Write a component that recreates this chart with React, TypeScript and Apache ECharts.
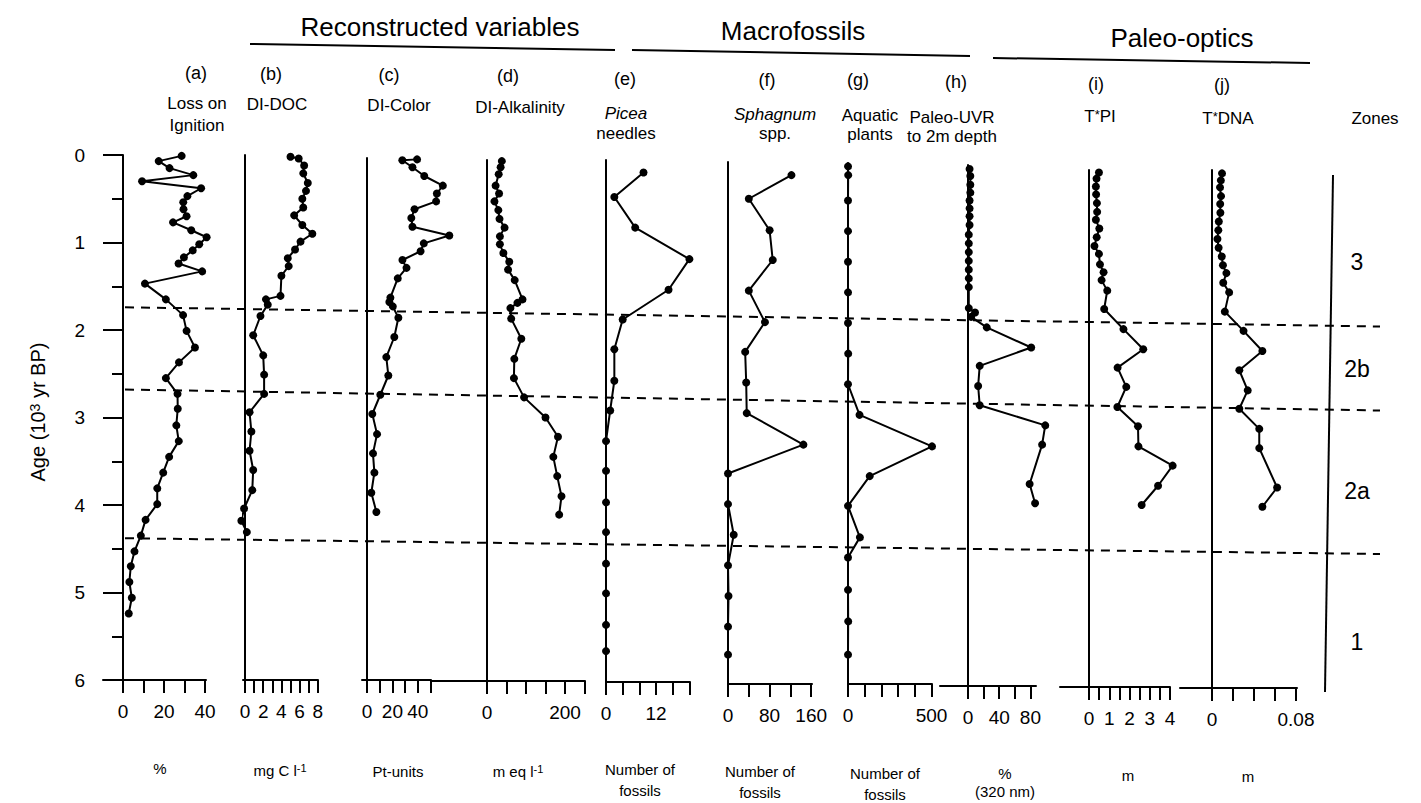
import React, { useEffect, useRef } from "react";
import * as echarts from "echarts";

const FONT = "'Liberation Sans', Arial, Helvetica, sans-serif";

// ---------------- data ----------------
// Age axis (10^3 yr BP)
const ageTicks = [0, 1, 2, 3, 4, 5, 6];

// (a) Loss on ignition (%)
const loiAge = [0.01, 0.07, 0.15, 0.23, 0.30, 0.38, 0.47, 0.54, 0.62, 0.70, 0.77, 0.86, 0.94, 1.02, 1.09, 1.17, 1.24, 1.33, 1.47, 1.65, 1.83, 2.01, 2.20, 2.37, 2.55, 2.73, 2.90, 3.09, 3.27, 3.45, 3.63, 3.81, 3.99, 4.17, 4.35, 4.53, 4.70, 4.88, 5.06, 5.24];
const loiValue = [28.6, 17.4, 22.7, 34.3, 9.3, 38.1, 31.4, 29.4, 29.5, 31.0, 24.4, 33.3, 40.8, 37.2, 34.0, 29.7, 27.1, 38.6, 10.7, 20.9, 29.3, 31.0, 35.1, 27.3, 20.9, 26.6, 26.7, 26.0, 27.2, 22.5, 19.6, 16.7, 16.7, 11.0, 8.7, 5.6, 3.8, 3.1, 4.3, 2.8];
const loiTicks = [0, 10, 20, 30, 40];
const loiLabels = [0, 20, 40];

// (b) DI-DOC (mg C l-1)
const docAge = [0.02, 0.04, 0.12, 0.21, 0.32, 0.41, 0.50, 0.60, 0.69, 0.80, 0.90, 0.99, 1.08, 1.18, 1.27, 1.38, 1.61, 1.65, 1.71, 1.84, 2.06, 2.29, 2.51, 2.73, 2.94, 3.16, 3.38, 3.60, 3.83, 4.04, 4.18, 4.31];
const docValue = [5.0, 5.9, 6.5, 6.4, 6.9, 6.7, 6.3, 6.4, 5.4, 6.3, 7.4, 6.1, 5.5, 4.7, 4.8, 4.0, 3.9, 2.3, 2.5, 1.7, 0.9, 2.0, 2.1, 2.1, 0.5, 0.7, 0.5, 0.9, 0.8, -0.1, -0.4, 0.2];
const docTicks = [0, 1, 2, 3, 4, 5, 6, 7, 8];
const docLabels = [0, 2, 4, 6, 8];

// (c) DI-Color (Pt-units)
const colorAge = [0.05, 0.06, 0.14, 0.24, 0.35, 0.44, 0.53, 0.62, 0.72, 0.82, 0.92, 1.01, 1.10, 1.20, 1.29, 1.41, 1.63, 1.68, 1.73, 1.86, 2.08, 2.31, 2.52, 2.74, 2.96, 3.19, 3.41, 3.63, 3.86, 4.08];
const colorValue = [39.4, 27.8, 35.8, 45.1, 59.7, 55.0, 54.4, 37.4, 34.9, 35.8, 64.8, 44.7, 42.2, 27.9, 31.1, 24.2, 18.4, 17.6, 20.3, 24.7, 21.5, 15.2, 16.8, 10.5, 4.2, 7.9, 4.7, 5.8, 3.4, 7.4];
const colorTicks = [0, 10, 20, 30, 40, 50];
const colorLabels = [0, 20, 40];

// (d) DI-Alkalinity (m eq l-1)
const alkAge = [0.07, 0.14, 0.22, 0.35, 0.44, 0.53, 0.63, 0.73, 0.83, 0.93, 1.02, 1.12, 1.22, 1.31, 1.43, 1.65, 1.69, 1.75, 1.87, 2.10, 2.33, 2.55, 2.77, 3.00, 3.22, 3.45, 3.67, 3.90, 4.11];
const alkValue = [38, 35, 30, 22, 31, 19, 29, 32, 45, 33, 33, 42, 57, 54, 71, 91, 78, 60, 62, 88, 70, 69, 95, 150, 182, 170, 180, 191, 185];
const alkTicks = [0, 50, 100, 150, 200, 250];
const alkLabels = [0, 200];

// (e) Picea needles (number of fossils)
const piceaAge = [0.20, 0.48, 0.83, 1.19, 1.54, 1.88, 2.22, 2.58, 2.92, 3.27, 3.61, 3.97, 4.31, 4.67, 5.01, 5.37, 5.67];
const piceaValue = [9, 2, 7, 20, 15, 4, 2, 2, 1, 0, 0, 0, 0, 0, 0, 0, 0];
const piceaTicks = [0, 4, 8, 12, 16, 20];
const piceaLabels = [0, 12];

// (f) Sphagnum spp. (number of fossils)
const sphagAge = [0.23, 0.50, 0.86, 1.20, 1.55, 1.91, 2.25, 2.60, 2.95, 3.31, 3.64, 3.99, 4.34, 4.69, 5.04, 5.39, 5.71];
const sphagValue = [122, 40, 80, 86, 40, 71, 33, 35, 36, 145, 0, 0, 11, 0, 1, 0, 0];
const sphagTicks = [0, 40, 80, 120, 160];
const sphagLabels = [0, 80, 160];

// (g) Aquatic plants (number of fossils)
const aquaticAge = [0.13, 0.23, 0.52, 0.87, 1.22, 1.57, 1.92, 2.27, 2.62, 2.97, 3.33, 3.67, 4.01, 4.37, 4.60, 4.97, 5.33, 5.71];
const aquaticValue = [0, 1, 0, 0, 0, 0, 0, 1, 0, 69, 503, 130, 0, 71, 0, 0, 1, 0];
const aquaticTicks = [0, 100, 200, 300, 400, 500];
const aquaticLabels = [0, 500];

// (h) Paleo-UVR to 2 m depth (% of 320 nm)
const uvrAge = [0.16, 0.24, 0.34, 0.43, 0.52, 0.61, 0.70, 0.80, 0.91, 1.01, 1.11, 1.21, 1.31, 1.41, 1.51, 1.75, 1.80, 1.85, 1.97, 2.20, 2.41, 2.64, 2.86, 3.09, 3.31, 3.76, 3.98];
const uvrValue = [2, 3, 3, 3, 2, 2, 2, 2, 1, 1, 1, 1, 1, 1, 1, 1, 9, 4, 24, 81, 15, 13, 15, 99, 95, 79, 86];
const uvrTicks = [0, 20, 40, 60, 80];
const uvrLabels = [0, 40, 80];

// (i) T*PI (m)
const piAge = [0.20, 0.27, 0.36, 0.45, 0.55, 0.65, 0.74, 0.84, 0.94, 1.04, 1.13, 1.25, 1.34, 1.43, 1.55, 1.76, 1.99, 2.22, 2.43, 2.65, 2.88, 3.10, 3.33, 3.55, 3.78, 4.00];
const piValue = [0.49, 0.37, 0.34, 0.35, 0.39, 0.40, 0.34, 0.51, 0.38, 0.27, 0.49, 0.54, 0.72, 0.62, 0.90, 0.75, 1.70, 2.68, 1.41, 1.84, 1.40, 2.42, 2.44, 4.13, 3.41, 2.60];
const piTicks = [0, 0.5, 1, 1.5, 2, 2.5, 3, 3.5, 4];
const piLabels = [0, 1, 2, 3, 4];

// (j) T*DNA (m)
const dnaAge = [0.21, 0.29, 0.37, 0.47, 0.56, 0.66, 0.76, 0.86, 0.96, 1.06, 1.16, 1.26, 1.35, 1.46, 1.57, 1.79, 2.01, 2.24, 2.46, 2.69, 2.90, 3.13, 3.35, 3.80, 4.02];
const dnaValue = [0.0095, 0.0084, 0.0076, 0.0086, 0.0078, 0.008, 0.0065, 0.006, 0.0052, 0.0063, 0.0093, 0.0104, 0.0137, 0.0107, 0.0163, 0.0122, 0.030, 0.048, 0.026, 0.034, 0.026, 0.045, 0.045, 0.062, 0.048];
const dnaTicks = [0, 0.02, 0.04, 0.06, 0.08];
const dnaLabels = [0, 0.08];

// Zone boundaries (age at left end / right end of the drawn dashed line)
const zoneBoundaryLeft = [1.74, 2.68, 4.38];
const zoneBoundaryRight = [1.96, 2.92, 4.56];
const zoneNames = ["3", "2b", "2a", "1"];
const zoneLabelAge = [1.22, 2.45, 3.84, 5.57];

// ---------------- layout ----------------
const AGE_TOP = 155;
const AGE_PX = 87.5;
const DATA_EXTRA = 120; // extra room to the right for the data layer

const panels = [
  { ages: loiAge, values: loiValue, ticks: loiTicks, labels: loiLabels, zeroX: 123, ppu: 2.05, left: 103, right: 206, top: 155, bottom: 680 },
  { ages: docAge, values: docValue, ticks: docTicks, labels: docLabels, zeroX: 245, ppu: 9.1, left: 243, right: 318, top: 155, bottom: 680 },
  { ages: colorAge, values: colorValue, ticks: colorTicks, labels: colorLabels, zeroX: 367, ppu: 1.27, left: 362, right: 431, top: 158, bottom: 680 },
  { ages: alkAge, values: alkValue, ticks: alkTicks, labels: alkLabels, zeroX: 487, ppu: 0.39, left: 432, right: 585, top: 160, bottom: 681 },
  { ages: piceaAge, values: piceaValue, ticks: piceaTicks, labels: piceaLabels, zeroX: 606, ppu: 4.17, left: 606, right: 690, top: 160, bottom: 682 },
  { ages: sphagAge, values: sphagValue, ticks: sphagTicks, labels: sphagLabels, zeroX: 728, ppu: 0.52, left: 728, right: 812, top: 162, bottom: 684 },
  { ages: aquaticAge, values: aquaticValue, ticks: aquaticTicks, labels: aquaticLabels, zeroX: 848, ppu: 0.167, left: 848, right: 932, top: 163, bottom: 684 },
  { ages: uvrAge, values: uvrValue, ticks: uvrTicks, labels: uvrLabels, zeroX: 968, ppu: 0.78, left: 940, right: 1036, top: 165, bottom: 686 },
  { ages: piAge, values: piValue, ticks: piTicks, labels: piLabels, zeroX: 1089, ppu: 20.25, left: 1060, right: 1170, top: 170, bottom: 687 },
  { ages: dnaAge, values: dnaValue, ticks: dnaTicks, labels: dnaLabels, zeroX: 1212, ppu: 1050, left: 1180, right: 1297, top: 170, bottom: 688 },
];

const BLACK = "#000";

function txt(x: number, y: number, text: string, fontSize: number, extra: any = {}) {
  const { rich, fontStyle, align, rotation } = extra;
  return {
    type: "text",
    x,
    y,
    rotation: rotation || 0,
    silent: true,
    style: {
      text,
      fontSize,
      fontFamily: FONT,
      fontStyle: fontStyle || "normal",
      fill: BLACK,
      align: align || "center",
      verticalAlign: "middle",
      rich,
    },
  };
}

function line(x1: number, y1: number, x2: number, y2: number, width = 2) {
  return {
    type: "line",
    silent: true,
    shape: { x1, y1, x2, y2 },
    style: { stroke: BLACK, lineWidth: width },
  };
}

function buildOption() {
  const grid: any[] = [];
  const xAxis: any[] = [];
  const yAxis: any[] = [];
  const series: any[] = [];
  const n = panels.length;

  // axis layer: one grid per panel, drawing the axes only
  panels.forEach((p, i) => {
    grid.push({ left: p.left, width: p.right - p.left, top: p.top, height: p.bottom - p.top });
    xAxis.push({
      gridIndex: i,
      type: "value",
      min: (p.left - p.zeroX) / p.ppu,
      max: (p.right - p.zeroX) / p.ppu,
      axisLine: { show: true, onZero: false, lineStyle: { color: BLACK, width: 2 } },
      axisTick: { show: true, customValues: p.ticks, length: 13, lineStyle: { color: BLACK, width: 2 } },
      axisLabel: { show: true, customValues: p.labels, fontSize: 19, color: BLACK, fontFamily: FONT, margin: 22 },
      splitLine: { show: false },
    });
    const isFirst = i === 0;
    yAxis.push({
      gridIndex: i,
      type: "value",
      inverse: true,
      min: (p.top - AGE_TOP) / AGE_PX,
      max: (p.bottom - AGE_TOP) / AGE_PX,
      interval: isFirst ? 1 : undefined,
      axisLine: { show: true, onZero: true, lineStyle: { color: BLACK, width: 2 } },
      axisTick: isFirst
        ? { show: true, length: 20, customValues: ageTicks, lineStyle: { color: BLACK, width: 2 } }
        : { show: false },
      minorTick: isFirst ? { show: true, splitNumber: 2, length: 11, lineStyle: { color: BLACK, width: 2 } } : { show: false },
      axisLabel: isFirst
        ? { show: true, customValues: ageTicks, fontSize: 19, color: BLACK, fontFamily: FONT, margin: 18 }
        : { show: false },
      splitLine: { show: false },
      minorSplitLine: { show: false },
    });
  });

  // data layer: same scales, wider grids so no point falls outside the axis range
  panels.forEach((p, i) => {
    const gi = n + i;
    const width = p.right - p.left + DATA_EXTRA;
    grid.push({ left: p.left, width, top: p.top, height: p.bottom - p.top });
    xAxis.push({
      gridIndex: gi,
      type: "value",
      show: false,
      min: (p.left - p.zeroX) / p.ppu,
      max: (p.left + width - p.zeroX) / p.ppu,
    });
    yAxis.push({
      gridIndex: gi,
      type: "value",
      show: false,
      inverse: true,
      min: (p.top - AGE_TOP) / AGE_PX,
      max: (p.bottom - AGE_TOP) / AGE_PX,
    });
    series.push({
      type: "line",
      xAxisIndex: gi,
      yAxisIndex: gi,
      data: p.ages.map((a, k) => [p.values[k], a]),
      symbol: "circle",
      symbolSize: 8,
      showSymbol: true,
      clip: false,
      itemStyle: { color: BLACK },
      lineStyle: { color: BLACK, width: 2 },
      z: 5,
    });
  });

  // overlay grid for the zone boundaries
  const oi = 2 * n;
  grid.push({ left: 125, width: 1380 - 125, top: AGE_TOP, height: 6 * AGE_PX });
  xAxis.push({ gridIndex: oi, type: "value", min: 0, max: 1, show: false });
  yAxis.push({ gridIndex: oi, type: "value", min: 0, max: 6, inverse: true, show: false });
  zoneBoundaryLeft.forEach((a, k) => {
    series.push({
      type: "line",
      xAxisIndex: oi,
      yAxisIndex: oi,
      data: [[0, a], [1, zoneBoundaryRight[k]]],
      symbol: "none",
      lineStyle: { color: BLACK, width: 2, type: [9, 7] },
      z: 3,
    });
  });

  const sup = { fontSize: 11, fontFamily: FONT, fill: BLACK, verticalAlign: "top", lineHeight: 12 };
  const supBig = { fontSize: 13, fontFamily: FONT, fill: BLACK, verticalAlign: "top", lineHeight: 14 };
  const supAge = { fontSize: 14, fontFamily: FONT, fill: BLACK, verticalAlign: "top", lineHeight: 15 };

  const graphic: any[] = [
    // group headers
    txt(440, 27, "Reconstructed variables", 26),
    line(250, 44, 615, 50),
    txt(793, 31, "Macrofossils", 26),
    line(632, 50, 970, 56),
    txt(1182, 38, "Paleo-optics", 26),
    line(993, 58, 1310, 63),
    // letters
    txt(196, 73, "(a)", 18),
    txt(271, 74, "(b)", 18),
    txt(389, 75, "(c)", 18),
    txt(508, 76, "(d)", 18),
    txt(625, 79, "(e)", 18),
    txt(767, 80, "(f)", 18),
    txt(858, 80, "(g)", 18),
    txt(956, 82, "(h)", 18),
    txt(1096, 84, "(i)", 18),
    txt(1222, 85, "(j)", 18),
    // names
    txt(197, 103, "Loss on", 17),
    txt(197, 125, "Ignition", 17),
    txt(277, 104, "DI-DOC", 17),
    txt(399, 105, "DI-Color", 17),
    txt(520, 107, "DI-Alkalinity", 17),
    txt(626, 113, "Picea", 17, { fontStyle: "italic" }),
    txt(626, 133, "needles", 17),
    txt(775, 114, "Sphagnum", 17, { fontStyle: "italic" }),
    txt(775, 133, "spp.", 17),
    txt(870, 115, "Aquatic", 17),
    txt(870, 134, "plants", 17),
    txt(952, 117, "Paleo-UVR", 17),
    txt(952, 136, "to 2m depth", 17),
    txt(1100, 116, "T{s|*}PI", 17, { rich: { s: supBig } }),
    txt(1228, 118, "T{s|*}DNA", 17, { rich: { s: supBig } }),
    txt(1375, 118, "Zones", 17),
    // units
    txt(160, 768, "%", 15),
    txt(280, 770, "mg C l{s|-1}", 15, { rich: { s: sup } }),
    txt(398, 771, "Pt-units", 15),
    txt(518, 771, "m eq l{s|-1}", 15, { rich: { s: sup } }),
    txt(640, 769, "Number of", 15),
    txt(640, 790, "fossils", 15),
    txt(760, 771, "Number of", 15),
    txt(760, 792, "fossils", 15),
    txt(885, 773, "Number of", 15),
    txt(885, 794, "fossils", 15),
    txt(1005, 773, "%", 15),
    txt(1005, 791, "(320 nm)", 15),
    txt(1128, 775, "m", 15),
    txt(1248, 776, "m", 15),
    // age axis title
    txt(38, 412, "Age (10{s|3} yr BP)", 20, { rotation: Math.PI / 2, rich: { s: supAge } }),
    // zones column
    line(1333, 175, 1325, 692),
  ];
  zoneNames.forEach((z, k) => {
    graphic.push(txt(1357, AGE_TOP + zoneLabelAge[k] * AGE_PX, z, 23));
  });

  return {
    animation: false,
    backgroundColor: "#fff",
    grid,
    xAxis,
    yAxis,
    series,
    graphic,
  };
}

export default function App() {
  const ref = useRef<HTMLDivElement>(null);
  useEffect(() => {
    const chart = echarts.init(ref.current as HTMLDivElement, null, { renderer: "svg" });
    chart.setOption(buildOption() as any);
    return () => chart.dispose();
  }, []);
  return (
    <div
      ref={ref}
      style={{ position: "fixed", left: 0, top: 0, width: 1421, height: 803, background: "#fff" }}
    />
  );
}
